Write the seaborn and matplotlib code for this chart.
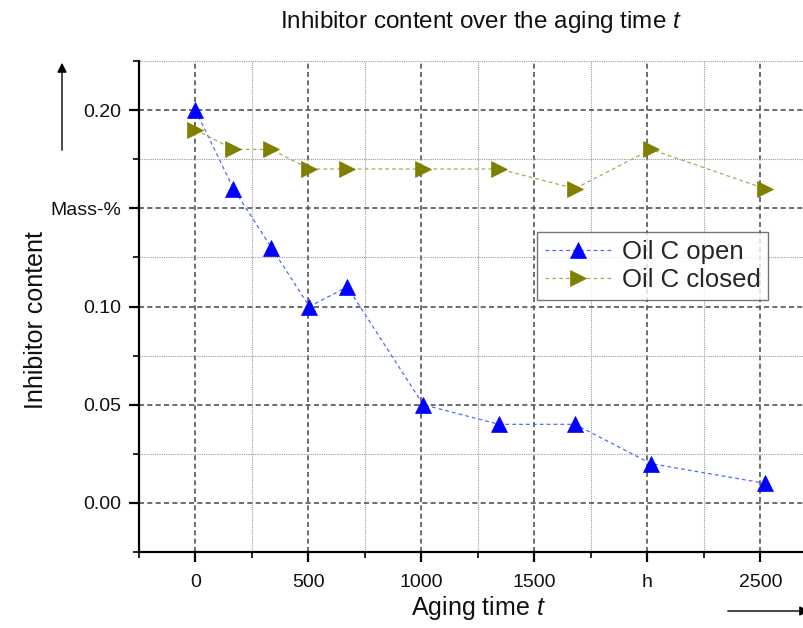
import matplotlib
matplotlib.use("Agg")
import matplotlib.pyplot as plt
from matplotlib.ticker import MultipleLocator, FixedLocator
import seaborn as sns
import pandas as pd

# Aging time in hours (weekly samples)
hours = [0, 168, 336, 504, 672, 1008, 1344, 1680, 2016, 2520]
oil_c_open = [0.20, 0.16, 0.13, 0.10, 0.11, 0.05, 0.04, 0.04, 0.02, 0.01]
oil_c_closed = [0.19, 0.18, 0.18, 0.17, 0.17, 0.17, 0.17, 0.16, 0.18, 0.16]

x_ticks = [0, 500, 1000, 1500, 2000, 2500]
x_tick_labels = ["0", "500", "1000", "1500", "h", "2500"]
y_ticks = [0.00, 0.05, 0.10, 0.15, 0.20]
y_tick_labels = ["0.00", "0.05", "0.10", "Mass-%", "0.20"]

sns.set_theme(style="white")
plt.rcParams["font.family"] = ["Liberation Sans", "DejaVu Sans"]
plt.rcParams["mathtext.fontset"] = "custom"
plt.rcParams["mathtext.it"] = "Liberation Sans:italic"
plt.rcParams["mathtext.rm"] = "Liberation Sans"

df = pd.DataFrame({"t": hours, "open": oil_c_open, "closed": oil_c_closed})

W, H = 804, 628
fig = plt.figure(figsize=(W / 100, H / 100), dpi=100)
ax = fig.add_axes([139 / W, 1 - 552 / H, 671 / W, 491 / H])

sns.lineplot(data=df, x="t", y="open", ax=ax, color="#4d6bff", linestyle=(0, (3, 2.5)),
             linewidth=0.9, marker="^", markersize=12, markerfacecolor="#0000ff",
             markeredgecolor="#0000ff", markeredgewidth=0.5, label="Oil C open", zorder=5)
sns.lineplot(data=df, x="t", y="closed", ax=ax, color="#a8a860", linestyle=(0, (3, 2.5)),
             linewidth=0.9, marker=">", markersize=12, markerfacecolor="#808000",
             markeredgecolor="#808000", markeredgewidth=0.5, label="Oil C closed", zorder=5)

ax.set_xlim(-250, 2720)
ax.set_ylim(-0.025, 0.225)

ax.xaxis.set_major_locator(FixedLocator(x_ticks))
ax.set_xticklabels(x_tick_labels)
ax.xaxis.set_minor_locator(MultipleLocator(250))
ax.yaxis.set_major_locator(FixedLocator(y_ticks))
ax.set_yticklabels(y_tick_labels)
ax.yaxis.set_minor_locator(MultipleLocator(0.025))

ax.grid(which="major", color="#555555", linestyle=(0, (3, 2)), linewidth=1.2)
ax.grid(which="minor", color="#9a9a9a", linestyle=(0, (1, 1)), linewidth=0.8)
ax.set_axisbelow(True)

for side in ("top", "right"):
    ax.spines[side].set_visible(False)
for side in ("left", "bottom"):
    ax.spines[side].set_color("black")
    ax.spines[side].set_linewidth(1.6)

ax.tick_params(which="major", direction="out", length=7, width=1.6, color="black",
               labelsize=14, pad=6, left=True, bottom=True, labelcolor="#111111")
ax.tick_params(which="minor", direction="out", length=4, width=1.2, color="black",
               left=True, bottom=True)
ax.tick_params(axis="x", which="major", pad=9)

ax.set_xlabel("")
ax.set_ylabel("")
fig.text(478 / W, 1 - 608 / H, "Aging time $t$", ha="center", va="center",
         fontsize=18, color="#111111")
fig.text(36 / W, 1 - 320 / H, "Inhibitor content", ha="center", va="center",
         rotation=90, fontsize=18, color="#111111")
fig.text(481 / W, 1 - 22 / H, "Inhibitor content over the aging time $t$", ha="center",
         va="center", fontsize=17.5, color="#111111")

leg = ax.legend(loc="upper left", bbox_to_anchor=((537 - 139) / 671, (552 - 232) / 491),
                fontsize=18.5, frameon=True, fancybox=False, edgecolor="#555555",
                handlelength=2.6, borderpad=0.3, labelspacing=0.18, handletextpad=0.4,
                borderaxespad=0)
leg.get_frame().set_linewidth(1.0)

# Direction arrows for the axes
fig.patches.append(matplotlib.patches.FancyArrowPatch(
    (62 / W, 1 - 153 / H), (62 / W, 1 - 60 / H), transform=fig.transFigure,
    arrowstyle="-|>", mutation_scale=14, color="black", linewidth=1.0))
fig.patches.append(matplotlib.patches.FancyArrowPatch(
    (725 / W, 1 - 611 / H), (812 / W, 1 - 611 / H), transform=fig.transFigure,
    arrowstyle="-|>", mutation_scale=14, color="black", linewidth=1.0))

fig.savefig("out.png", dpi=100)
